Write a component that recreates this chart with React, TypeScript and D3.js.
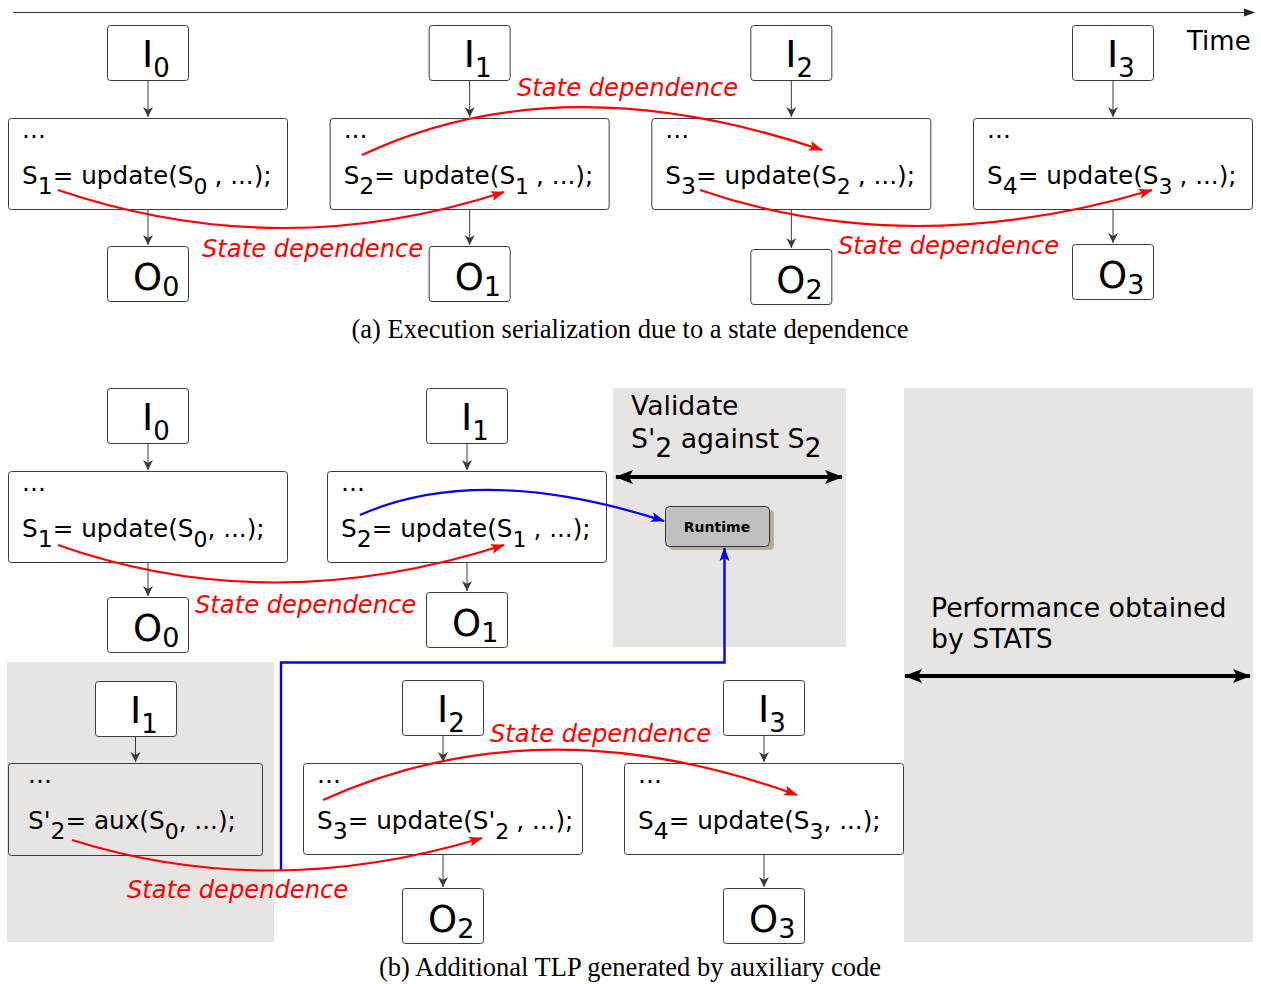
import React from "react";
import * as d3 from "d3";

type Seg = [string, number]; // [text, 0 normal | 1 first subscript | 2 argument subscript]

// ---- content ----
const inputSubsA = ["0", "1", "2", "3"];
const outputSubsA = ["0", "1", "2", "3"];
const codeLinesA: Seg[][] = [
  [["S", 0], ["1", 1], ["= update(S", 0], ["0 ", 2], [", ...);", 0]],
  [["S", 0], ["2", 1], ["= update(S", 0], ["1 ", 2], [", ...);", 0]],
  [["S", 0], ["3", 1], ["= update(S", 0], ["2 ", 2], [", ...);", 0]],
  [["S", 0], ["4", 1], ["= update(S", 0], ["3 ", 2], [", ...);", 0]],
];
const inputSubsBTop = ["0", "1"];
const outputSubsBTop = ["0", "1"];
const codeLinesBTop: Seg[][] = [
  [["S", 0], ["1", 1], ["= update(S", 0], ["0", 2], [", ...);", 0]],
  [["S", 0], ["2", 1], ["= update(S", 0], ["1 ", 2], [", ...);", 0]],
];
const auxLine: Seg[] = [["S'", 0], ["2", 1], ["= aux(S", 0], ["0", 2], [", ...);", 0]];
const inputSubsBBot = ["2", "3"];
const outputSubsBBot = ["2", "3"];
const codeLinesBBot: Seg[][] = [
  [["S", 0], ["3", 1], ["= update(S'", 0], ["2 ", 2], [", ...);", 0]],
  [["S", 0], ["4", 1], ["= update(S", 0], ["3", 2], [", ...);", 0]],
];
const depLabel = "State dependence";
const captionA = "(a) Execution serialization due to a state dependence";
const captionB = "(b) Additional TLP generated by auxiliary code";
const validateLines: Seg[][] = [
  [["Validate", 0]],
  [["S'", 0], ["2", 1], [" against S", 0], ["2", 1]],
];
const perfLines = ["Performance obtained", "by STATS"];

// ---- layout ----
const W = 1261, H = 984;
const SANS = "'DejaVu Sans', sans-serif";
const SERIF = "'Liberation Serif', 'Times New Roman', serif";
const colA = d3.scaleLinear().domain([0, 3]).range([8, 973]);
const outYA = [246, 246, 249, 244];
const colBTop = d3.scaleLinear().domain([0, 1]).range([8, 327]);
const outYBTop = [597, 592];
const colBBot = d3.scaleLinear().domain([0, 1]).range([303, 624]);
const CODE_W = 279, CODE_H = 91, IO_W = 81, IO_H = 55;
const GRAY = "#e7e5e4";
const STROKE = "#3a3a3a";

function Rich({ x, y, segs, size, sub, sub2, fill = "#000", dy = 7, family = SANS }:
  { x: number; y: number; segs: Seg[]; size: number; sub: number; sub2?: number; fill?: string; dy?: number; family?: string }) {
  let cur = 0;
  return (
    <text x={x} y={y} fontSize={size} fill={fill} fontFamily={family}>
      {segs.map(([t, s], i) => {
        const target = s ? dy : 0;
        const d = target - cur;
        cur = target;
        const fs = s === 0 ? size : s === 1 ? sub : (sub2 ?? sub);
        return (
          <tspan key={i} dy={d} fontSize={fs} style={{ whiteSpace: "pre" }}>{t}</tspan>
        );
      })}
    </text>
  );
}

function Box({ x, y, w, h, fill = "#fff" }: { x: number; y: number; w: number; h: number; fill?: string }) {
  return <rect x={x + 0.5} y={y + 0.5} width={w} height={h} rx={3} fill={fill} stroke={STROKE} strokeWidth={1} />;
}

function IOBox({ x, y, letter, subText }: { x: number; y: number; letter: string; subText: string }) {
  const isI = letter === "I";
  return (
    <g>
      <Box x={x} y={y} w={IO_W} h={IO_H} />
      {isI ? (
        <Rich x={x + 35} y={y + 42} segs={[[letter, 0], [subText, 1]]} size={38} sub={26} dy={10} />
      ) : (
        <Rich x={x + 26} y={y + 44} segs={[[letter, 0], [subText, 1]]} size={37} sub={27} dy={6} />
      )}
    </g>
  );
}

function CodeBox({ x, y, w = CODE_W, h = CODE_H, line, fill = "#fff", tx = 14 }:
  { x: number; y: number; w?: number; h?: number; line: Seg[]; fill?: string; tx?: number }) {
  return (
    <g>
      <Box x={x} y={y} w={w} h={h} fill={fill} />
      <text x={x + tx} y={y + 20} fontSize={25} fontFamily={SANS}>...</text>
      <Rich x={x + tx} y={y + 66} segs={line} size={24.7} sub={23.5} sub2={22} dy={10} />
    </g>
  );
}

function vArrow(x: number, y1: number, y2: number, key: string) {
  return <line key={key} x1={x + 0.5} y1={y1} x2={x + 0.5} y2={y2 - 1} stroke={STROKE} strokeWidth={1} markerEnd="url(#mSmall)" />;
}

function curve(p0: [number, number], c: [number, number], p1: [number, number]) {
  const p = d3.path();
  p.moveTo(p0[0], p0[1]);
  p.quadraticCurveTo(c[0], c[1], p1[0], p1[1]);
  return p.toString();
}

function Col({ bx, by, ix, iy, oy, inSub, outSub, line, key }: any) {
  const cx = ix + IO_W / 2;
  return (
    <g key={key}>
      <IOBox x={ix} y={iy} letter="I" subText={inSub} />
      <CodeBox x={bx} y={by} line={line} />
      <IOBox x={ix} y={oy} letter="O" subText={outSub} />
      {vArrow(cx, iy + IO_H + 1, by, "v1")}
      {vArrow(cx, by + CODE_H + 1, oy, "v2")}
    </g>
  );
}

export default function App() {
  const red = "#ff0000";
  const blue = "#0000ff";
  const labelStyle = { fontSize: 24.2, fontFamily: SANS, fontStyle: "italic" as const, fill: red };
  return (
    <svg width={W} height={H} style={{ position: "absolute", left: 0, top: 0, background: "#fff" }}>
      <defs>
        <marker id="mSmall" markerUnits="userSpaceOnUse" markerWidth={12} markerHeight={12} refX={10} refY={5} orient="auto" viewBox="0 0 12 10">
          <path d="M0,0 L10,5 L0,10 L3,5 z" fill={STROKE} />
        </marker>
        <marker id="mTime" markerUnits="userSpaceOnUse" markerWidth={12} markerHeight={10} refX={10} refY={4} orient="auto" viewBox="0 0 12 8">
          <path d="M0,0 L11,4 L0,8 z" fill="#222" />
        </marker>
        <marker id="mRed" markerUnits="userSpaceOnUse" markerWidth={16} markerHeight={12} refX={13} refY={5} orient="auto" viewBox="0 0 16 10">
          <path d="M0,0 L14,5 L0,10 L3,5 z" fill={red} />
        </marker>
        <marker id="mBlue" markerUnits="userSpaceOnUse" markerWidth={16} markerHeight={12} refX={13} refY={5} orient="auto" viewBox="0 0 16 10">
          <path d="M0,0 L14,5 L0,10 L3,5 z" fill={blue} />
        </marker>
        <marker id="mBig" markerUnits="userSpaceOnUse" markerWidth={20} markerHeight={16} refX={17} refY={7} orient="auto-start-reverse" viewBox="0 0 20 14">
          <path d="M0,0 L18,7 L0,14 L4,7 z" fill="#000" />
        </marker>
      </defs>

      {/* Time axis */}
      <line x1={13} y1={12.5} x2={1254} y2={12.5} stroke="#333" strokeWidth={1} markerEnd="url(#mTime)" />
      <text x={1187} y={50} fontSize={26} fontFamily={SANS}>Time</text>

      {/* Part (a) */}
      {inputSubsA.map((s, i) =>
        Col({ key: "a" + i, bx: colA(i), by: 118, ix: colA(i) + 99, iy: 25, oy: outYA[i], inSub: s, outSub: outputSubsA[i], line: codeLinesA[i] })
      )}
      <path d={curve([58, 190], [280, 265], [504, 192])} fill="none" stroke={red} strokeWidth={2.2} markerEnd="url(#mRed)" />
      <path d={curve([362, 155], [560, 62], [822, 150])} fill="none" stroke={red} strokeWidth={2.2} markerEnd="url(#mRed)" />
      <path d={curve([700, 190], [910, 262], [1152, 190])} fill="none" stroke={red} strokeWidth={2.2} markerEnd="url(#mRed)" />
      <text x={202} y={257} {...labelStyle}>{depLabel}</text>
      <text x={517} y={96} {...labelStyle}>{depLabel}</text>
      <text x={838} y={254} {...labelStyle}>{depLabel}</text>
      <text x={630} y={338} textAnchor="middle" fontSize={26.5} fontFamily={SERIF}>{captionA}</text>

      {/* Part (b) gray regions */}
      <rect x={613} y={388} width={233} height={259} fill={GRAY} />
      <rect x={904} y={388} width={349} height={554} fill={GRAY} />
      <rect x={7} y={662} width={267} height={280} fill={GRAY} />

      {/* Part (b) top */}
      {inputSubsBTop.map((s, i) =>
        Col({ key: "bt" + i, bx: colBTop(i), by: 471, ix: colBTop(i) + 99, iy: 388, oy: outYBTop[i], inSub: s, outSub: outputSubsBTop[i], line: codeLinesBTop[i] })
      )}

      {/* Validate */}
      {validateLines.map((l, i) => (
        <Rich key={i} x={631} y={415 + i * 33} segs={l} size={26.7} sub={26.7} dy={9} />
      ))}
      <line x1={616} y1={477} x2={842} y2={477} stroke="#000" strokeWidth={4} markerStart="url(#mBig)" markerEnd="url(#mBig)" />

      {/* Runtime */}
      <rect x={669} y={510} width={105} height={40} rx={4} fill="#bcae96" />
      <rect x={665.5} y={506.5} width={104} height={40} rx={4} fill="#c0c0c0" stroke="#333" strokeWidth={1} />
      <text x={717} y={532} textAnchor="middle" fontSize={14} fontWeight="bold" fontFamily={SANS}>Runtime</text>

      {/* blue arrows */}
      <path d={curve([360, 515], [480, 462], [664, 521])} fill="none" stroke={blue} strokeWidth={2.2} markerEnd="url(#mBlue)" />
      <path d={`M281,870 L281,662.5 L724.5,662.5 L724.5,548`} fill="none" stroke={blue} strokeWidth={2.4} markerEnd="url(#mBlue)" />

      {/* Performance */}
      {perfLines.map((t, i) => (
        <text key={i} x={931} y={617 + i * 31} fontSize={26.7} fontFamily={SANS}>{t}</text>
      ))}
      <line x1={905} y1={676} x2={1250} y2={676} stroke="#000" strokeWidth={4} markerStart="url(#mBig)" markerEnd="url(#mBig)" />

      {/* aux column */}
      <IOBox x={95} y={681} letter="I" subText="1" />
      <CodeBox x={8} y={763} w={254} h={92} line={auxLine} fill="none" tx={20} />
      {vArrow(135, 737, 763, "auxv")}

      {/* Part (b) bottom */}
      {inputSubsBBot.map((s, i) =>
        Col({ key: "bb" + i, bx: colBBot(i), by: 763, ix: colBBot(i) + 99, iy: 680, oy: 888, inSub: s, outSub: outputSubsBBot[i], line: codeLinesBBot[i] })
      )}

      {/* red curves (b) */}
      <path d={curve([58, 545], [270, 620], [504, 545])} fill="none" stroke={red} strokeWidth={2.2} markerEnd="url(#mRed)" />
      <path d={curve([72, 840], [270, 902], [482, 838])} fill="none" stroke={red} strokeWidth={2.2} markerEnd="url(#mRed)" />
      <path d={curve([323, 800], [540, 702], [797, 795])} fill="none" stroke={red} strokeWidth={2.2} markerEnd="url(#mRed)" />
      <text x={195} y={613} {...labelStyle}>{depLabel}</text>
      <text x={490} y={742} {...labelStyle}>{depLabel}</text>
      <text x={127} y={898} {...labelStyle}>{depLabel}</text>

      <text x={630} y={976} textAnchor="middle" fontSize={26.5} fontFamily={SERIF}>{captionB}</text>
    </svg>
  );
}
